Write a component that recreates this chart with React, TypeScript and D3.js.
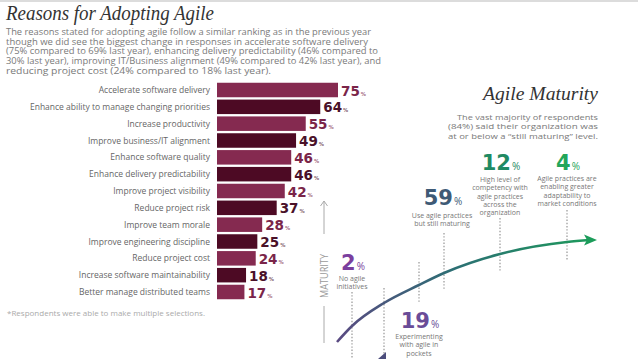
import React from "react";
import * as d3 from "d3";

const categories = [
  "Accelerate software delivery",
  "Enhance ability to manage changing priorities",
  "Increase productivity",
  "Improve business/IT alignment",
  "Enhance software quality",
  "Enhance delivery predictability",
  "Improve project visibility",
  "Reduce project risk",
  "Improve team morale",
  "Improve engineering discipline",
  "Reduce project cost",
  "Increase software maintainability",
  "Better manage distributed teams",
];
const values = [75, 64, 55, 49, 46, 46, 42, 37, 28, 25, 24, 18, 17];

const titleText = "Reasons for Adopting Agile";
const introLines = [
  "The reasons stated for adopting agile follow a similar ranking as in the previous year",
  "though we did see the biggest change in responses in accelerate software delivery",
  "(75% compared to 69% last year), enhancing delivery predictability (46% compared to",
  "30% last year), improving IT/Business alignment (49% compared to 42% last year), and",
  "reducing project cost (24% compared to 18% last year).",
];
const introWidths = [365, 362, 372, 375, 265];
const footnote = "*Respondents were able to make multiple selections.";

const maturityTitle = "Agile Maturity";
const maturityIntro = [
  "The vast majority of respondents",
  "(84%) said their organization was",
  "at or below a \u201cstill maturing\u201d level.",
];
const maturityIntroWidths = [141, 150, 150];

const stageValues = [2, 19, 59, 12, 4];
const stageDescriptions = [
  ["No agile", "initiatives"],
  ["Experimenting", "with agile in", "pockets"],
  ["Use agile practices", "but still maturing"],
  ["High level of", "competency with", "agile practices", "across the", "organization"],
  ["Agile practices are", "enabling greater", "adaptability to", "market conditions"],
];
const stageColors = ["#7b3f9e", "#6a4c98", "#3e5a76", "#1f8a63", "#23a65a"];

export default function App() {
  const W = 638;
  const H = 359;
  const sans = "'Open Sans', sans-serif";
  const bold = "'DejaVu Sans', sans-serif";
  const serif = "'Liberation Serif', serif";

  const y = d3.scalePoint<string>().domain(categories).range([90, 292]);
  const x = d3.scaleLinear().domain([0, 75]).range([217, 338]);
  const barH = 14.5;
  const barColors = ["#852a50", "#4d0a24"];
  const valColors = ["#7a2549", "#4a1129"];

  const stageX = [353, 420, 443, 501, 568];
  const stageBase = [270, 328, 205, 170, 170];
  const descStart = [278, 336, 215, 179, 178];

  const curvePts: [number, number][] = [
    [337, 342], [352, 326], [384, 303], [419, 285], [444, 273], [500, 254], [567, 242], [590, 240],
  ];
  const line = d3.line().curve(d3.curveMonotoneX);
  const dotted = [
    [352, 292, 359], [384, 288, 359], [419, 262, 303], [444, 233, 289], [500, 218, 272], [567, 210, 261],
  ];

  return (
    <svg width={W} height={H} style={{ position: "absolute", left: 0, top: 0, background: "#fff" }}>
      <defs>
        <linearGradient id="cg" gradientUnits="userSpaceOnUse" x1={337} y1={0} x2={597} y2={0}>
          <stop offset="0%" stopColor="#5a4a82" />
          <stop offset="45%" stopColor="#2c6f74" />
          <stop offset="100%" stopColor="#1c9c5a" />
        </linearGradient>
      </defs>
      <rect x={0} y={0} width={W} height={2} fill="#dcdcdc" />
      <text x={6} y={20} fontFamily={serif} fontStyle="italic" fontSize={20} fill="#333" textLength={208} lengthAdjust="spacingAndGlyphs">
        {titleText}
      </text>
      {introLines.map((t, i) => (
        <text key={i} x={6} y={35 + i * 9.7} fontFamily={sans} fontSize={8.4} fill="#7a7a7a" textLength={introWidths[i]} lengthAdjust="spacingAndGlyphs">
          {t}
        </text>
      ))}

      {categories.map((c, i) => {
        const cy = y(c)!;
        return (
          <g key={c}>
            <text x={210} y={cy + 3} textAnchor="end" fontFamily={sans} fontSize={8.5} fill="#666">
              {c}
            </text>
            <rect x={x(0)} y={cy - barH / 2} width={x(values[i]) - x(0)} height={barH} fill={barColors[i % 2]} />
            <text x={x(values[i]) + 3} y={cy + 5.5} fontFamily={bold} fontWeight="bold" fontSize={13.5} fill={valColors[i % 2]}>
              {values[i]}
              <tspan fontSize={5.5} fontWeight="normal" dx={1}>%</tspan>
            </text>
          </g>
        );
      })}
      <text x={7} y={316} fontFamily={sans} fontSize={7} fill="#aaa" textLength={198} lengthAdjust="spacingAndGlyphs">
        {footnote}
      </text>

      <text x={598} y={100} textAnchor="end" fontFamily={serif} fontStyle="italic" fontSize={18} fill="#333" textLength={115} lengthAdjust="spacingAndGlyphs">
        {maturityTitle}
      </text>
      {maturityIntro.map((t, i) => (
        <text key={i} x={598} y={119.5 + i * 9.6} textAnchor="end" fontFamily={sans} fontSize={7.9} fill="#7a7a7a" textLength={maturityIntroWidths[i]} lengthAdjust="spacingAndGlyphs">
          {t}
        </text>
      ))}

      <g stroke="#aaa" strokeWidth={1} fill="none">
        <line x1={324} y1={201} x2={324} y2={234} />
        <polyline points="320.5,206 324,201 327.5,206" />
        <line x1={324} y1={306} x2={324} y2={343} />
      </g>
      <text transform="translate(328,276) rotate(-90)" textAnchor="middle" fontFamily={sans} fontSize={10} fill="#9a9a9a" textLength={44} lengthAdjust="spacingAndGlyphs">
        MATURITY
      </text>

      {dotted.map((d, i) => (
        <line key={i} x1={d[0]} y1={d[1]} x2={d[0]} y2={d[2]} stroke="#b0b0b0" strokeWidth={1.6} strokeDasharray="1.4 1.8" />
      ))}

      <path d={line(curvePts) || ""} fill="none" stroke="url(#cg)" strokeWidth={2.6} />
      <polygon points="584,234.5 597,240 584,245.5 587,240" fill="#1c9c5a" />

      {stageValues.map((v, i) => (
        <g key={i}>
          <text x={stageX[i]} y={stageBase[i]} textAnchor="middle" fontFamily={bold} fontWeight="bold" fontSize={21} fill={stageColors[i]}>
            {v}
            <tspan fontFamily={sans} fontWeight="normal" fontSize={10} dx={1}>%</tspan>
          </text>
          {stageDescriptions[i].map((t, j) => (
            <text key={j} x={stageX[i] - 1} y={descStart[i] + 3 + j * 8.3} textAnchor="middle" fontFamily={sans} fontSize={7} fill="#777">
              {t}
            </text>
          ))}
        </g>
      ))}
      <polygon points="378,359 386,352 386,359" fill="#4c4d7c" />
    </svg>
  );
}
